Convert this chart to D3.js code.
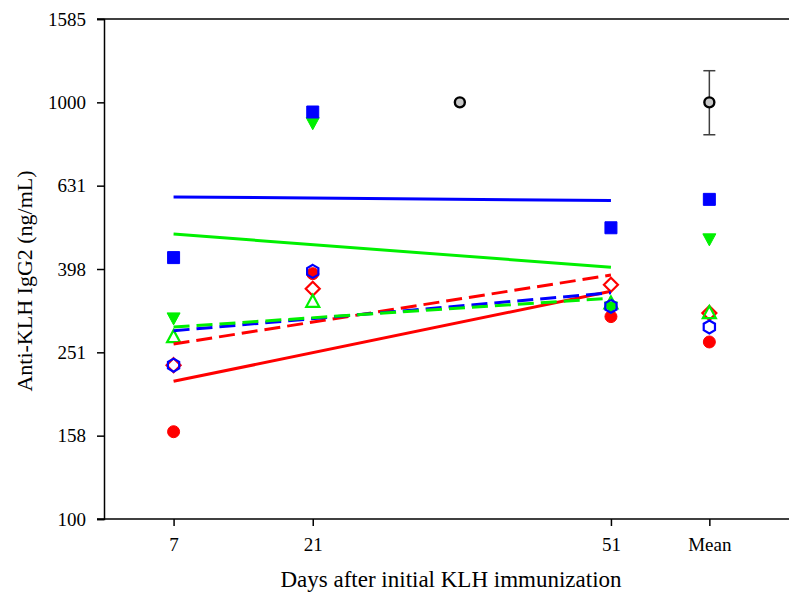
<!DOCTYPE html>
<html>
	<head>
		<meta charset="utf-8">
		<title>Anti-KLH IgG2</title>
		<script src="https://d3js.org/d3.v7.min.js"></script>
		<style type="text/css">
			body { margin: 0; background: #fff; }
			text { font-family: "Liberation Serif", "Times New Roman", serif; fill: #000; }
		</style>
	</head>
	<body>
		<script type="text/javascript">

			var svgWidth = 789;
			var svgHeight = 599;

			// x positions (days) and tick labels
			var days = [7, 21, 51];
			var meanDay = 60.9;
			var xTickValues = [7, 21, 51, 60.9];
			var xTickLabels = ['7', '21', '51', 'Mean'];

			// y ticks (log scale)
			var yTickValues = [100, 158.5, 251.2, 398.1, 631, 1000, 1585];
			var yTickLabels = ['100', '158', '251', '398', '631', '1000', '1585'];

			// group values at days 7, 21, 51, then the group mean
			var redFilled = [162, 388, 306];
			var redFilledMean = 266;
			var redOpen = [234, 357, 365];
			var redOpenMean = 312;
			var blueFilled = [424, 948, 500];
			var blueFilledMean = 585;
			var blueOpen = [234, 393, 324];
			var blueOpenMean = 289;
			var greenFilled = [303, 891, 322];
			var greenFilledMean = 469;
			var greenOpen = [274, 333, 330];
			var greenOpenMean = 313;

			// fitted lines, value at day 7 and at day 51
			var redSolid = [214, 352];
			var redDashed = [263, 385];
			var blueSolid = [593, 581];
			var blueDashed = [283, 349];
			var greenSolid = [483, 402];
			var greenDashed = [289, 339];

			// reference point and overall mean with error bar
			var refDay = 35.8;
			var refValue = 1000;
			var overallMean = 1000;
			var overallErr = [836, 1191];

			var red = '#ff0000', green = '#00f000', blue = '#0000ff';

			var xScale = d3.scaleLinear()
				.domain([0, 70])
				.range([104, 104 + 70 * 9.94]);

			var yScale = d3.scaleLog()
				.domain([100, 1585])
				.range([519, 19]);

			var svg = d3.select('body')
				.append('svg')
				.attr('width', svgWidth)
				.attr('height', svgHeight);

			// top frame line runs to the edge
			svg.append('line')
				.attr('x1', 97).attr('x2', svgWidth)
				.attr('y1', yScale(1585)).attr('y2', yScale(1585))
				.attr('stroke', '#000').attr('stroke-width', 1.5);

			// y axis
			var yAxis = d3.axisLeft(yScale)
				.tickValues(yTickValues)
				.tickFormat(function(d, i) { return yTickLabels[i]; })
				.tickSizeOuter(0)
				.tickSize(7)
				.tickPadding(11);
			var gy = svg.append('g')
				.attr('transform', 'translate(104,0)')
				.call(yAxis);
			gy.selectAll('text').attr('font-size', '19px');
			gy.select('.domain').attr('stroke-width', 1.5);

			// x axis
			var xAxis = d3.axisBottom(xScale)
				.tickValues(xTickValues)
				.tickFormat(function(d, i) { return xTickLabels[i]; })
				.tickSizeOuter(0)
				.tickSize(7)
				.tickPadding(12);
			var gx = svg.append('g')
				.attr('transform', 'translate(0,519)')
				.call(xAxis);
			gx.selectAll('text').attr('font-size', '19px');
			gx.select('.domain').remove();
			svg.append('line')
				.attr('x1', 97).attr('x2', svgWidth)
				.attr('y1', 519).attr('y2', 519)
				.attr('stroke', '#000').attr('stroke-width', 1.5);
			svg.selectAll('.tick line').attr('stroke-width', 1.5);

			// axis titles
			svg.append('text')
				.attr('x', 451)
				.attr('y', 587)
				.attr('text-anchor', 'middle')
				.attr('font-size', '23px')
				.text('Days after initial KLH immunization');

			svg.append('text')
				.attr('transform', 'translate(32,281) rotate(-90)')
				.attr('text-anchor', 'middle')
				.attr('font-size', '22px')
				.text('Anti-KLH IgG2 (ng/mL)');

			// marker shapes
			function shape(type) {
				if (type === 'circle') {
					return d3.symbol().type(d3.symbolCircle).size(Math.PI * 36)();
				}
				if (type === 'square') {
					return 'M-6,-6L6,-6L6,6L-6,6Z';
				}
				if (type === 'up') {
					return 'M0,-6.5L6.5,5.5L-6.5,5.5Z';
				}
				if (type === 'down') {
					return 'M0,6.5L6.5,-5.5L-6.5,-5.5Z';
				}
				if (type === 'diamond') {
					return 'M0,-7L7,0L0,7L-7,0Z';
				}
				if (type === 'hexagon') {
					var pts = d3.range(6).map(function(k) {
						var a = -Math.PI / 2 + k * Math.PI / 3;
						return [6.5 * Math.cos(a), 6.5 * Math.sin(a)];
					});
					return 'M' + pts.join('L') + 'Z';
				}
			}

			var groups = [
				{ values: redFilled, mean: redFilledMean, color: red, type: 'circle', open: false },
				{ values: redOpen, mean: redOpenMean, color: red, type: 'diamond', open: true },
				{ values: greenFilled, mean: greenFilledMean, color: green, type: 'down', open: false },
				{ values: greenOpen, mean: greenOpenMean, color: green, type: 'up', open: true },
				{ values: blueFilled, mean: blueFilledMean, color: blue, type: 'square', open: false },
				{ values: blueOpen, mean: blueOpenMean, color: blue, type: 'hexagon', open: true }
			];

			groups.forEach(function(g) {
				var pts = g.values.map(function(v, i) { return [days[i], v]; });
				pts.push([meanDay, g.mean]);
				svg.append('g')
					.selectAll('path')
					.data(pts)
					.enter()
					.append('path')
					.attr('d', shape(g.type))
					.attr('transform', function(d) {
						return 'translate(' + xScale(d[0]) + ',' + yScale(d[1]) + ')';
					})
					.attr('fill', g.open ? 'none' : g.color)
					.attr('stroke', g.color)
					.attr('stroke-width', g.open ? 2.2 : 1);
			});

			// fitted lines
			var fits = [
				{ values: redSolid, color: red, dash: null },
				{ values: greenSolid, color: green, dash: null },
				{ values: blueSolid, color: blue, dash: null },
				{ values: redDashed, color: red, dash: '16,7' },
				{ values: blueDashed, color: blue, dash: '16,7' },
				{ values: greenDashed, color: green, dash: '16,7' }
			];

			var line = d3.line()
				.x(function(d) { return xScale(d[0]); })
				.y(function(d) { return yScale(d[1]); });

			fits.forEach(function(f) {
				svg.append('path')
					.datum([[days[0], f.values[0]], [days[2], f.values[1]]])
					.attr('d', line)
					.attr('fill', 'none')
					.attr('stroke', f.color)
					.attr('stroke-width', 3)
					.attr('stroke-dasharray', f.dash);
			});

			// overall mean error bar
			var mx = xScale(meanDay);
			svg.append('line')
				.attr('x1', mx).attr('x2', mx)
				.attr('y1', yScale(overallErr[0])).attr('y2', yScale(overallErr[1]))
				.attr('stroke', '#404040').attr('stroke-width', 1.5);
			overallErr.forEach(function(v) {
				svg.append('line')
					.attr('x1', mx - 6).attr('x2', mx + 6)
					.attr('y1', yScale(v)).attr('y2', yScale(v))
					.attr('stroke', '#404040').attr('stroke-width', 1.5);
			});

			svg.selectAll('circle.ref')
				.data([[refDay, refValue], [meanDay, overallMean]])
				.enter()
				.append('circle')
				.attr('class', 'ref')
				.attr('cx', function(d) { return xScale(d[0]); })
				.attr('cy', function(d) { return yScale(d[1]); })
				.attr('r', 5)
				.attr('fill', '#c8c8c8')
				.attr('stroke', '#000')
				.attr('stroke-width', 2.4);

		</script>
	</body>
</html>
